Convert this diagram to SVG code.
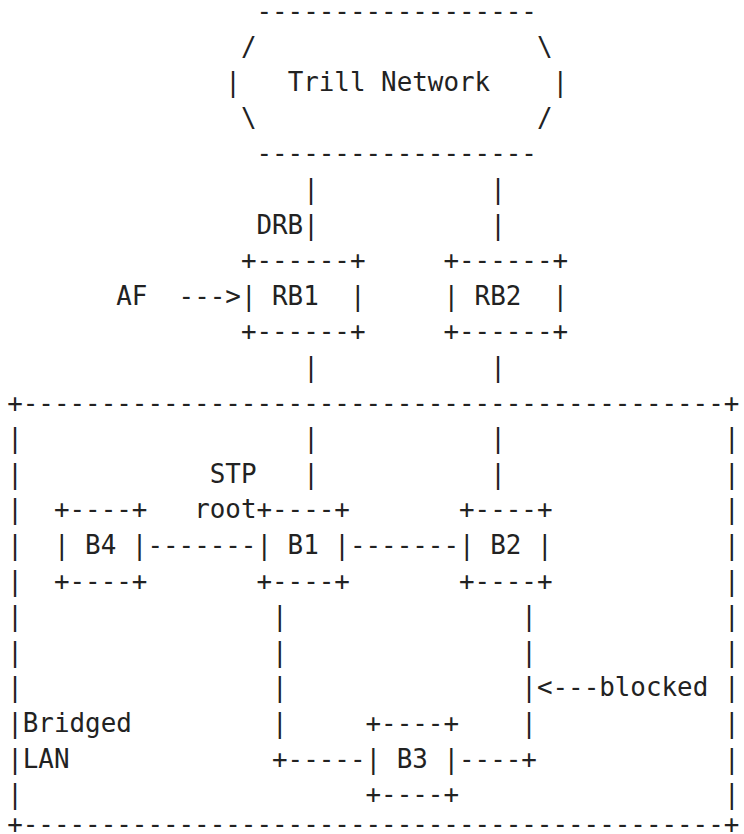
<svg xmlns="http://www.w3.org/2000/svg" width="744" height="834" viewBox="0 0 744 834">
<style>
text{font-family:"DejaVu Sans Mono","Liberation Mono",monospace;font-size:25.88px;fill:#222;white-space:pre}
</style>
<rect width="744" height="834" fill="#fff"/>
<g id="trill-network">
<text x="256.48" y="20">------------------</text>
<text x="240.9" y="55.6">/</text><text x="536.92" y="55.6">\</text>
<text x="225.32" y="91.2">|</text><text x="287.64" y="91.2">Trill Network</text><text x="552.5" y="91.2">|</text>
<text x="240.9" y="126.8">\</text><text x="536.92" y="126.8">/</text>
<text x="256.48" y="162.4">------------------</text>
</g>
<g id="rb1">
<text x="240.9" y="269.2">+------+</text>
<text x="240.9" y="304.8" xml:space="preserve">| RB1  |</text>
<text x="240.9" y="340.4">+------+</text>
</g>
<g id="rb2">
<text x="443.44" y="269.2">+------+</text>
<text x="443.44" y="304.8" xml:space="preserve">| RB2  |</text>
<text x="443.44" y="340.4">+------+</text>
</g>
<g id="labels">
<text x="256.48" y="233.6">DRB</text>
<text x="116.26" y="304.8">AF</text>
<text x="209.74" y="482.8">STP</text>
<text x="194.16" y="518.4">root</text>
<text x="536.92" y="696.4">&lt;---blocked</text>
</g>
<g id="bridged-lan">
<text x="7.2" y="411.6">+---------------------------------------------+</text>
<text x="7.2" y="447.2">|</text><text x="723.88" y="447.2">|</text>
<text x="7.2" y="482.8">|</text><text x="723.88" y="482.8">|</text>
<text x="7.2" y="518.4">|</text><text x="723.88" y="518.4">|</text>
<text x="7.2" y="554">|</text><text x="723.88" y="554">|</text>
<text x="7.2" y="589.6">|</text><text x="723.88" y="589.6">|</text>
<text x="7.2" y="625.2">|</text><text x="723.88" y="625.2">|</text>
<text x="7.2" y="660.8">|</text><text x="723.88" y="660.8">|</text>
<text x="7.2" y="696.4">|</text><text x="723.88" y="696.4">|</text>
<text x="7.2" y="732">|Bridged</text><text x="723.88" y="732">|</text>
<text x="7.2" y="767.6">|LAN</text><text x="723.88" y="767.6">|</text>
<text x="7.2" y="803.2">|</text><text x="723.88" y="803.2">|</text>
<text x="7.2" y="833">+---------------------------------------------+</text>
</g>
<g id="b4">
<text x="53.94" y="518.4">+----+</text>
<text x="53.94" y="554" xml:space="preserve">| B4 |</text>
<text x="53.94" y="589.6">+----+</text>
</g>
<g id="b1">
<text x="256.48" y="518.4">+----+</text>
<text x="256.48" y="554" xml:space="preserve">| B1 |</text>
<text x="256.48" y="589.6">+----+</text>
</g>
<g id="b2">
<text x="459.02" y="518.4">+----+</text>
<text x="459.02" y="554" xml:space="preserve">| B2 |</text>
<text x="459.02" y="589.6">+----+</text>
</g>
<g id="b3">
<text x="365.54" y="732">+----+</text>
<text x="365.54" y="767.6" xml:space="preserve">| B3 |</text>
<text x="365.54" y="803.2">+----+</text>
</g>
<g id="connectors">
<text x="303.22" y="198">|</text><text x="490.18" y="198">|</text>
<text x="303.22" y="233.6">|</text><text x="490.18" y="233.6">|</text>
<text x="178.58" y="304.8">---&gt;</text>
<text x="303.22" y="376">|</text><text x="490.18" y="376">|</text>
<text x="303.22" y="447.2">|</text><text x="490.18" y="447.2">|</text>
<text x="303.22" y="482.8">|</text><text x="490.18" y="482.8">|</text>
<text x="147.42" y="554">-------</text>
<text x="349.96" y="554">-------</text>
<text x="272.06" y="625.2">|</text><text x="521.34" y="625.2">|</text>
<text x="272.06" y="660.8">|</text><text x="521.34" y="660.8">|</text>
<text x="272.06" y="696.4">|</text><text x="521.34" y="696.4">|</text>
<text x="272.06" y="732">|</text><text x="521.34" y="732">|</text>
<text x="272.06" y="767.6">+-----</text>
<text x="459.02" y="767.6">----+</text>
</g>
</svg>
